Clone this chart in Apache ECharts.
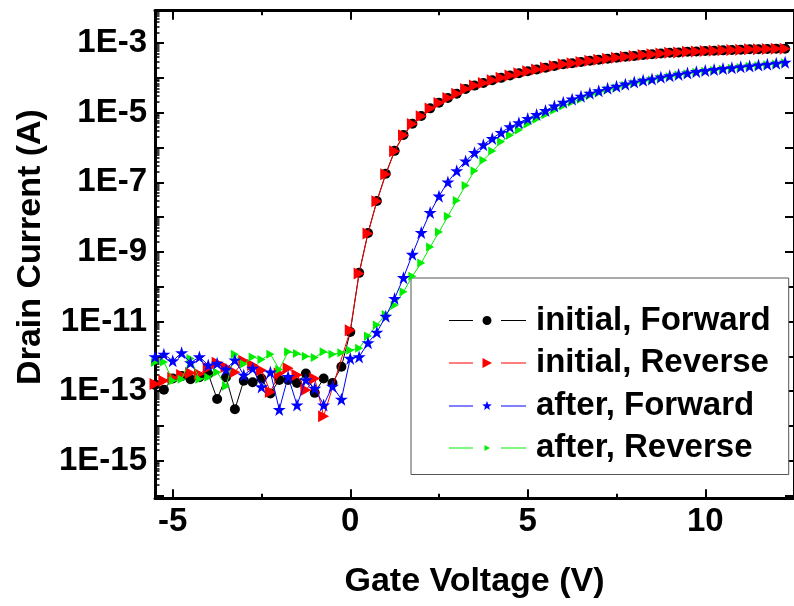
<!DOCTYPE html>
<html>
<head>
<meta charset="utf-8">
<script src="https://cdn.jsdelivr.net/npm/echarts@6/dist/echarts.min.js"></script>
<style>html,body{margin:0;padding:0;background:#fff}#chart{width:794px;height:606px}</style>
</head>
<body>
<div id="chart"></div>
<script>
// ---------------- data ----------------
const gateVoltage = [-5.5,-5.25,-5,-4.75,-4.5,-4.25,-4,-3.75,-3.5,-3.25,-3,-2.75,-2.5,-2.25,-2,-1.75,-1.5,-1.25,-1,-0.75,-0.5,-0.25,
  0,0.25,0.5,0.75,1,1.25,1.5,1.75,2,2.25,2.5,2.75,3,3.25,3.5,3.75,4,4.25,4.5,4.75,5,5.25,5.5,5.75,6,6.25,6.5,6.75,
  7,7.25,7.5,7.75,8,8.25,8.5,8.75,9,9.25,9.5,9.75,10,10.25,10.5,10.75,11,11.25,11.5,11.75,12,12.25];

const initialForward = [1.5e-13,1.1e-13,2.3e-13,2.7e-13,2.2e-13,2.5e-13,3.1e-13,5.9e-14,2.5e-13,3.0e-14,2.0e-13,1.8e-13,2.3e-13,8.5e-14,2.1e-13,2.1e-13,1.7e-13,3.2e-13,8.9e-14,2.3e-13,1.7e-13,5.0e-13,
  5.0e-12,2.5e-10,3.5e-9,2.9e-8,1.75e-7,8.0e-7,2.3e-6,4.8e-6,8.0e-6,1.33e-5,1.92e-5,2.65e-5,3.5e-5,4.8e-5,6.0e-5,7.1e-5,8.5e-5,1.0e-4,1.17e-4,1.35e-4,1.55e-4,1.74e-4,1.95e-4,2.19e-4,2.45e-4,2.63e-4,2.88e-4,3.09e-4,
  3.31e-4,3.55e-4,3.8e-4,4.07e-4,4.27e-4,4.57e-4,4.79e-4,5.01e-4,5.25e-4,5.37e-4,5.62e-4,5.75e-4,5.89e-4,6.03e-4,6.17e-4,6.31e-4,6.46e-4,6.61e-4,6.61e-4,6.76e-4,6.92e-4,6.92e-4];

const initialReverse = [1.6e-13,2.0e-13,2.4e-13,2.9e-13,3.3e-13,3.1e-13,4.6e-13,6.5e-13,4.9e-13,3.5e-13,7.4e-13,5.6e-13,4.0e-13,9.5e-14,3.2e-13,4.5e-13,2.9e-13,1.07e-13,2.3e-13,1.9e-14,null,null,
  5.6e-12,2.4e-10,3.4e-9,2.85e-8,1.7e-7,7.8e-7,2.24e-6,4.7e-6,7.9e-6,1.32e-5,1.91e-5,2.63e-5,3.47e-5,4.79e-5,6.03e-5,7.08e-5,8.51e-5,1.0e-4,1.17e-4,1.35e-4,1.55e-4,1.74e-4,1.95e-4,2.19e-4,2.45e-4,2.63e-4,2.88e-4,3.09e-4,
  3.31e-4,3.55e-4,3.8e-4,4.07e-4,4.27e-4,4.57e-4,4.79e-4,5.01e-4,5.25e-4,5.37e-4,5.62e-4,5.75e-4,5.89e-4,6.03e-4,6.17e-4,6.31e-4,6.46e-4,6.61e-4,6.61e-4,6.76e-4,6.92e-4,6.92e-4];

const afterForward = [9.7e-13,1.15e-12,7.4e-13,1.26e-12,6.5e-13,9.6e-13,5.6e-13,6.3e-13,4.2e-13,7.8e-13,2.9e-13,4.5e-13,1.32e-13,3.5e-13,2.95e-14,2.6e-13,4.0e-14,2.1e-13,1.2e-13,4.0e-14,1.38e-13,5.8e-14,
  8.7e-13,9.6e-13,2.45e-12,4.9e-12,1.41e-11,4.6e-11,1.82e-10,8.5e-10,3.6e-9,1.35e-8,4.0e-8,1.02e-7,2.14e-7,4.1e-7,7.1e-7,1.2e-6,1.82e-6,2.7e-6,3.9e-6,5.1e-6,6.8e-6,8.9e-6,1.15e-5,1.55e-5,2.0e-5,2.45e-5,2.95e-5,3.63e-5,
  4.27e-5,5.0e-5,5.75e-5,6.6e-5,7.6e-5,8.5e-5,9.3e-5,1.05e-4,1.15e-4,1.26e-4,1.38e-4,1.51e-4,1.62e-4,1.74e-4,1.86e-4,1.95e-4,2.09e-4,2.19e-4,2.34e-4,2.45e-4,2.63e-4,2.82e-4];

const afterReverse = [6.6e-13,6.9e-13,2.0e-13,2.2e-13,8.7e-13,2.2e-13,2.5e-13,3.5e-13,1.38e-13,1.15e-12,6.0e-13,9.6e-13,8.1e-13,1.15e-12,4.2e-13,1.35e-12,1.2e-12,1.0e-12,9.3e-13,1.35e-12,1.15e-12,1.26e-12,
  1.5e-12,1.7e-12,3.8e-12,7.9e-12,1.6e-11,2.95e-11,7.1e-11,2.0e-10,4.8e-10,1.38e-9,3.7e-9,1.05e-8,3.0e-8,8.1e-8,2.14e-7,4.3e-7,7.9e-7,1.45e-6,2.24e-6,3.2e-6,4.7e-6,6.5e-6,8.7e-6,1.17e-5,1.55e-5,2.0e-5,2.45e-5,3.1e-5,
  3.7e-5,4.5e-5,5.1e-5,6.0e-5,6.9e-5,7.8e-5,8.7e-5,9.8e-5,1.07e-4,1.2e-4,1.32e-4,1.45e-4,1.55e-4,1.66e-4,1.78e-4,1.9e-4,2.0e-4,2.14e-4,2.24e-4,2.4e-4,2.5e-4,2.7e-4];

const seriesNames = ['initial, Forward', 'initial, Reverse', 'after, Forward', 'after, Reverse'];
const xTickLabels = [-5, 0, 5, 10];
const xMinorTicks = [-2.5, 2.5, 7.5, 12.5];
const yTickLabels = ['1E-15', '1E-13', '1E-11', '1E-9', '1E-7', '1E-5', '1E-3'];
const xTitle = 'Gate Voltage (V)';
const yTitle = 'Drain Current (A)';

// ---------------- layout / style ----------------
const FONT = '"Liberation Sans", Arial, Helvetica, sans-serif';
const X_MIN = -5.5, X_MAX = 12.5;
const LOG_MIN = -16.08, LOG_MAX = -2.07;   // decades shown on the y axis
const yLabelExps = yTickLabels.map(s => parseInt(s.slice(2), 10));
const yMajorExps = [];
for (let e = Math.ceil(LOG_MIN); e <= Math.floor(LOG_MAX); e++) yMajorExps.push(e);
const yMinorExps = [];
for (let e = Math.floor(LOG_MIN); e <= Math.ceil(LOG_MAX); e++) {
  for (let k = 2; k <= 9; k++) {
    const v = e + Math.log10(k);
    if (v > LOG_MIN && v < LOG_MAX) yMinorExps.push(v);
  }
}

const pairs = arr => gateVoltage.map((v, i) => [v, arr[i]]);

const TRI = 'path://M0,0L10,5.5L0,11Z';
const STAR = 'path://M50,0L61.2,34.5L97.6,34.5L68.2,55.9L79.4,90.5L50,69.1L20.6,90.5L31.8,55.9L2.4,34.5L38.8,34.5Z';
const legendIcon = marker => 'path://M0,5H24V6H0Z' + marker + 'M52,5H77V6H52Z';
const LEG_CIRCLE = 'M33.5,5.5A4.5,4.5 0 1 1 42.5,5.5A4.5,4.5 0 1 1 33.5,5.5Z';
const LEG_TRI = 'M33.5,0.5L43,5.5L33.5,10.5Z';
const LEG_STAR = 'M38,0.5L39.23,3.8L42.76,3.95L40,6.15L40.94,9.55L38,7.6L35.06,9.55L36,6.15L33.24,3.95L36.77,3.8Z';
const LEG_SMALLTRI = 'M35.5,2.5L41,5.5L35.5,8.5Z';

const colors = ['#000000', '#ff0000', '#0000ff', '#00ee00'];

function mkSeries(i, data, symbol, size, z) {
  return {
    name: seriesNames[i], type: 'line', xAxisIndex: 0, yAxisIndex: 0,
    data: pairs(data), connectNulls: true, z: z,
    symbol: symbol, symbolSize: size, showAllSymbol: true,
    lineStyle: { color: colors[i], width: 1 },
    itemStyle: { color: colors[i] },
    emphasis: { disabled: true }, animation: false
  };
}

const tickLine = { color: '#000', width: 2 };
const baseX = { type: 'value', min: X_MIN, max: X_MAX, splitLine: { show: false }, axisLabel: { show: false } };
const baseYv = { type: 'value', min: LOG_MIN, max: LOG_MAX, splitLine: { show: false }, axisLabel: { show: false } };

const option = {
  backgroundColor: '#ffffff',
  animation: false,
  grid: { left: 155, top: 10.7, width: 645, height: 487.6, containLabel: false },
  xAxis: [
    Object.assign({}, baseX, {
      position: 'bottom',
      axisLine: { show: true, onZero: false, lineStyle: { color: '#000', width: 3 } },
      axisTick: { show: true, inside: true, length: 9, customValues: xTickLabels, lineStyle: tickLine },
      axisLabel: { show: true, customValues: xTickLabels, margin: 7, color: '#000', fontFamily: FONT, fontWeight: 'bold', fontSize: 33 },
      name: xTitle, nameLocation: 'middle', nameGap: 66,
      nameTextStyle: { color: '#000', fontFamily: FONT, fontWeight: 'bold', fontSize: 34 }
    }),
    Object.assign({}, baseX, {
      position: 'bottom', axisLine: { show: false, onZero: false },
      axisTick: { show: true, inside: true, length: 4.5, customValues: xMinorTicks, lineStyle: tickLine }
    }),
    Object.assign({}, baseX, {
      position: 'top',
      axisLine: { show: true, onZero: false, lineStyle: { color: '#000', width: 3 } },
      axisTick: { show: true, inside: true, length: 9, customValues: xTickLabels, lineStyle: tickLine }
    }),
    Object.assign({}, baseX, {
      position: 'top', axisLine: { show: false, onZero: false },
      axisTick: { show: true, inside: true, length: 4.5, customValues: xMinorTicks, lineStyle: tickLine }
    })
  ],
  yAxis: [
    {
      type: 'log', logBase: 10, min: Math.pow(10, LOG_MIN), max: Math.pow(10, LOG_MAX), position: 'left',
      axisLine: { show: true, onZero: false, lineStyle: { color: '#000', width: 3 } },
      axisTick: { show: false }, minorTick: { show: false }, axisLabel: { show: false }, splitLine: { show: false }
    },
    Object.assign({}, baseYv, {
      position: 'left', axisLine: { show: false, onZero: false },
      axisTick: { show: true, inside: true, length: 9, customValues: yMajorExps, lineStyle: tickLine },
      axisLabel: { show: true, customValues: yLabelExps, margin: 8, color: '#000', fontFamily: FONT, fontWeight: 'bold', fontSize: 33,
        formatter: v => yTickLabels[yLabelExps.indexOf(Math.round(v))] },
      name: yTitle, nameLocation: 'middle', nameGap: 104,
      nameTextStyle: { color: '#000', fontFamily: FONT, fontWeight: 'bold', fontSize: 34, padding: [0, 0, 0, 15] }
    }),
    Object.assign({}, baseYv, {
      position: 'left', axisLine: { show: false, onZero: false },
      axisTick: { show: true, inside: true, length: 4.5, customValues: yMinorExps, lineStyle: { color: '#000', width: 1.5 } }
    }),
    Object.assign({}, baseYv, {
      position: 'right',
      axisLine: { show: true, onZero: false, lineStyle: { color: '#000', width: 3 } },
      axisTick: { show: true, inside: true, length: 9, customValues: yMajorExps, lineStyle: tickLine }
    })
  ],
  legend: {
    orient: 'vertical', left: 411, top: 278,
    padding: [26, 18, 10, 38],
    backgroundColor: '#ffffff', borderColor: '#555555', borderWidth: 1, borderRadius: 0,
    itemWidth: 77, itemHeight: 11, itemGap: 9.5,
    selectedMode: false,
    textStyle: { color: '#000', fontFamily: FONT, fontWeight: 'bold', fontSize: 33, lineHeight: 33, padding: [0, 0, 0, 5] },
    itemStyle: { borderWidth: 0 },
    data: [
      { name: seriesNames[0], icon: legendIcon(LEG_CIRCLE) },
      { name: seriesNames[1], icon: legendIcon(LEG_TRI) },
      { name: seriesNames[2], icon: legendIcon(LEG_STAR) },
      { name: seriesNames[3], icon: legendIcon(LEG_SMALLTRI) }
    ]
  },
  series: [
    mkSeries(0, initialForward, 'circle', 10, 2),
    mkSeries(1, initialReverse, TRI, [11, 12], 3),
    mkSeries(3, afterReverse, TRI, [8, 9], 4),
    mkSeries(2, afterForward, STAR, 13, 5)
  ]
};

const chart = echarts.init(document.getElementById('chart'), null, { renderer: 'canvas' });
chart.setOption(option);
</script>
</body>
</html>
